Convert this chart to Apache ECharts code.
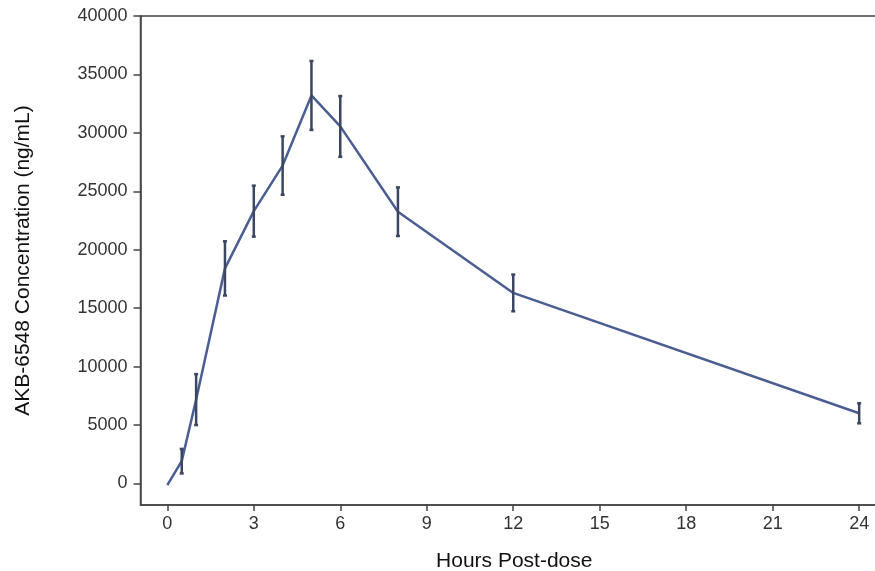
<!DOCTYPE html>
<html lang="en">
<head>
    <meta charset="UTF-8">
    <title>AKB-6548 concentration</title>
    <script src="https://cdn.jsdelivr.net/npm/echarts@6/dist/echarts.min.js"></script>
    <style>
        html, body { margin: 0; padding: 0; background: #fff; }
    </style>
</head>
<body>
    <div id="chart" style="width: 875px;height:571px;"></div>
    <script>
        // hours post-dose
        var hours = [0, 0.5, 1, 2, 3, 4, 5, 6, 8, 12, 24];
        // mean concentration (ng/mL)
        var meanConc = [-150, 1900, 7170, 18400, 23300, 27200, 33200, 30550, 23250, 16300, 6000];
        // error bar half-length (ng/mL)
        var errConc = [0, 1050, 2180, 2320, 2180, 2500, 2950, 2600, 2080, 1570, 860];

        var xTicks = [0, 3, 6, 9, 12, 15, 18, 21, 24];
        var yTicks = [0, 5000, 10000, 15000, 20000, 25000, 30000, 35000, 40000];

        var lineData = [];
        var barData = [];
        for (var i = 0; i < hours.length; i++) {
            lineData.push([hours[i], meanConc[i]]);
            if (errConc[i] > 0) {
                barData.push([hours[i], meanConc[i] - errConc[i], meanConc[i] + errConc[i]]);
            }
        }

        var myChart = echarts.init(document.getElementById("chart"));

        var labelStyle = {
            color: '#333',
            fontFamily: 'Liberation Sans, Arial, sans-serif',
            fontSize: 18
        };

        var option = {
            animation: false,
            grid: {
                left: 140.5,
                top: 16,
                bottom: 66,
                right: -13,
                containLabel: false,
                outerBoundsMode: 'none',
                show: true,
                borderColor: '#444',
                borderWidth: 1.5
            },
            xAxis: {
                type: 'value',
                min: -0.93,
                max: 25,
                name: 'Hours Post-dose',
                nameLocation: 'middle',
                nameGap: 46,
                nameTextStyle: {
                    color: '#111',
                    fontFamily: 'Liberation Sans, Arial, sans-serif',
                    fontSize: 21
                },
                axisLine: { onZero: false, lineStyle: { color: '#444', width: 1.5 } },
                axisTick: {
                    customValues: xTicks,
                    length: 6,
                    lineStyle: { color: '#444', width: 1.5 }
                },
                axisLabel: Object.assign({
                    customValues: xTicks,
                    margin: 10
                }, labelStyle),
                splitLine: { show: false }
            },
            yAxis: {
                type: 'value',
                min: -1850,
                max: 40000,
                name: 'AKB-6548 Concentration (ng/mL)',
                nameLocation: 'middle',
                nameGap: 107,
                nameTextStyle: {
                    color: '#111',
                    fontFamily: 'Liberation Sans, Arial, sans-serif',
                    fontSize: 21
                },
                axisLine: { show: true, onZero: false, lineStyle: { color: '#444', width: 1.5 } },
                axisTick: {
                    show: true,
                    customValues: yTicks,
                    length: 7,
                    lineStyle: { color: '#444', width: 1.5 }
                },
                axisLabel: Object.assign({
                    customValues: yTicks,
                    margin: 13,
                    formatter: function (v) { return String(v); }
                }, labelStyle),
                splitLine: { show: false }
            },
            series: [
                {
                    type: 'line',
                    data: lineData,
                    symbol: 'none',
                    lineStyle: { color: '#4a5e94', width: 2.5 },
                    z: 2
                },
                {
                    type: 'custom',
                    data: barData,
                    z: 3,
                    renderItem: function (params, api) {
                        var x = api.value(0);
                        var lo = api.coord([x, api.value(1)]);
                        var hi = api.coord([x, api.value(2)]);
                        var cw = 2;
                        var st = { stroke: '#3b4663', lineWidth: 2.5 };
                        return {
                            type: 'group',
                            children: [
                                { type: 'line', shape: { x1: hi[0], y1: hi[1], x2: lo[0], y2: lo[1] }, style: st },
                                { type: 'line', shape: { x1: hi[0] - cw, y1: hi[1], x2: hi[0] + cw, y2: hi[1] }, style: st },
                                { type: 'line', shape: { x1: lo[0] - cw, y1: lo[1], x2: lo[0] + cw, y2: lo[1] }, style: st }
                            ]
                        };
                    }
                }
            ]
        };

        myChart.setOption(option);
    </script>
</body>
</html>
